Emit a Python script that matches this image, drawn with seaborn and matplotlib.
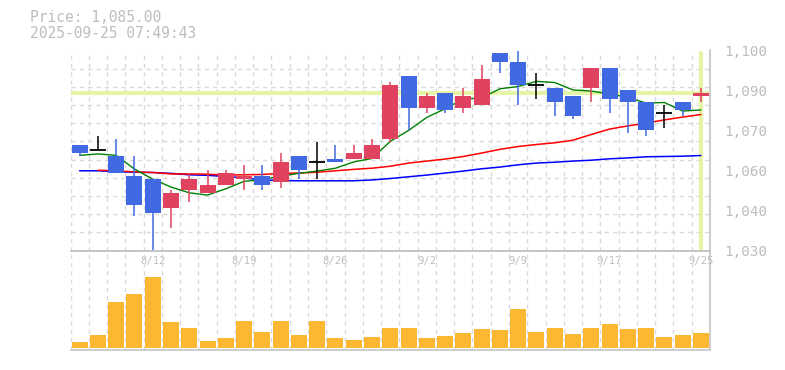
import numpy as np
import pandas as pd
import matplotlib
matplotlib.use("Agg")
import matplotlib.pyplot as plt
import seaborn as sns
from matplotlib.ticker import FixedLocator

# ---------------- data ----------------
dates = ["8/5", "8/6", "8/7", "8/8", "8/12", "8/13", "8/14", "8/15", "8/18", "8/19",
         "8/20", "8/21", "8/22", "8/25", "8/26", "8/27", "8/28", "8/29", "9/1", "9/2",
         "9/3", "9/4", "9/5", "9/8", "9/9", "9/10", "9/11", "9/12", "9/16", "9/17",
         "9/18", "9/19", "9/22", "9/24", "9/25"]
open_ = [1067, 1065, 1063, 1056, 1055, 1045, 1051, 1050, 1053, 1055,
         1056, 1054, 1063, 1061, 1062, 1062, 1062, 1069, 1091, 1080,
         1085, 1080, 1081, 1099, 1096, 1088, 1087, 1084, 1087, 1094,
         1086, 1082, 1078, 1082, 1084]
high = [1067, 1070, 1069, 1063, 1055, 1051, 1057, 1058, 1058, 1060,
        1060, 1064, 1063, 1068, 1067, 1067, 1069, 1089, 1091, 1085,
        1085, 1087, 1095, 1099, 1100, 1092, 1087, 1084, 1094, 1094,
        1086, 1082, 1081, 1082, 1087]
low = [1063, 1065, 1057, 1042, 1030, 1038, 1047, 1050, 1053, 1051,
       1051, 1052, 1055, 1055, 1061, 1062, 1062, 1068, 1072, 1078,
       1078, 1078, 1081, 1092, 1081, 1083, 1077, 1076, 1082, 1078,
       1071, 1070, 1073, 1077, 1082]
close = [1064, 1065, 1057, 1046, 1043, 1050, 1055, 1053, 1057, 1056,
         1053, 1061, 1058, 1061, 1061, 1064, 1067, 1088, 1080, 1084,
         1079, 1084, 1090, 1096, 1088, 1088, 1082, 1077, 1094, 1083,
         1082, 1072, 1078, 1079, 1085]
volume = [6, 13, 46, 54, 71, 26, 20, 7, 10, 27,
          16, 27, 13, 27, 10, 8, 11, 20, 20, 10,
          12, 15, 19, 18, 39, 16, 20, 14, 20, 24,
          19, 20, 11, 13, 15]
ma_short = [1063.3, 1063.8, 1063.3, 1058.5, 1055.0, 1052.2, 1050.2, 1049.4, 1051.6, 1054.2,
            1054.8, 1056.0, 1057.0, 1057.8, 1058.8, 1061.0, 1062.2, 1068.2, 1072.0, 1076.6,
            1079.6, 1083.0, 1083.4, 1086.6, 1087.4, 1089.2, 1088.8, 1086.2, 1085.8, 1084.8,
            1083.6, 1081.6, 1081.8, 1078.8, 1079.2]
ma_mid = [np.nan, 1058.1, 1057.9, 1057.5, 1057.3, 1056.8, 1056.8, 1056.7, 1056.4, 1056.5,
          1056.6, 1057.0, 1057.1, 1057.4, 1057.9, 1058.4, 1058.8, 1059.5, 1060.6, 1061.3,
          1062.0, 1062.9, 1064.1, 1065.4, 1066.4, 1067.1, 1067.7, 1068.6, 1070.6, 1072.5,
          1073.6, 1074.6, 1075.7, 1076.7, 1077.6]
ma_long = [1057.9, 1057.9, 1057.6, 1057.4, 1057.3, 1057.0, 1056.5, 1056.3, 1055.9, 1055.4,
           1054.7, 1054.5, 1054.4, 1054.4, 1054.4, 1054.4, 1054.7, 1055.2, 1055.8, 1056.4,
           1057.1, 1057.8, 1058.6, 1059.2, 1060.0, 1060.6, 1060.9, 1061.3, 1061.6, 1062.1,
           1062.4, 1062.8, 1062.9, 1063.0, 1063.25]
x_labels = ["8/12", "8/19", "8/26", "9/2", "9/9", "9/17", "9/25"]
y_ticks = [1030, 1044, 1058, 1072, 1086, 1100]
y_labels = ["1,030", "1,040", "1,060", "1,070", "1,090", "1,100"]
current_price = 1085.00
timestamp = "2025-09-25 07:49:43"

df = pd.DataFrame({"date": dates, "open": open_, "high": high, "low": low,
                   "close": close, "volume": volume, "ma_s": ma_short,
                   "ma_m": ma_mid, "ma_l": ma_long})
df["i"] = np.arange(len(df))

# ---------------- style ----------------
sns.set_style("white")
plt.rcParams["font.family"] = ["DejaVu Sans Mono"]

UP = "#e0435f"
DOWN = "#4169e1"
GRID = "#d9d9d9"
BORDER = "#c4c4c4"
TXT = "#bdbdbd"
HILITE = "#e5f4a6"
VOL = "#fdb833"

W, H = 785, 370
fig = plt.figure(figsize=(W / 100, H / 100), dpi=100)
L, R = 70.5, 710
ax = fig.add_axes([L / W, (H - 250.5) / H, (R - L) / W, 200 / H])
axv = fig.add_axes([L / W, (H - 350) / H, (R - L) / W, 99.5 / H])
axv.set_facecolor("none")

n = len(df)
width = 0.875

# highlight lines
ax.axhline(current_price, color=HILITE, lw=3, zorder=1)
ax.axvline(n - 1, ymin=0.01, ymax=0.99, color=HILITE, lw=3, zorder=1)

# moving averages
sns.lineplot(data=df, x="i", y="ma_l", color="#0000ff", lw=1.1, ax=ax, zorder=2)
sns.lineplot(data=df, x="i", y="ma_m", color="#ff0000", lw=1.1, ax=ax, zorder=2)
sns.lineplot(data=df, x="i", y="ma_s", color="#008000", lw=1.0, ax=ax, zorder=2)

# candles
for _, r in df.iterrows():
    o, c, h, l, i = r["open"], r["close"], r["high"], r["low"], r["i"]
    if c > o:
        col = UP
    elif c < o:
        col = DOWN
    else:
        col = "black"
    ax.vlines(i, l, h, color=col, lw=1.1, zorder=3)
    if c == o:
        ax.hlines(c, i - width / 2, i + width / 2, color="black", lw=1.3, zorder=4)
    else:
        ax.bar(i, abs(c - o), bottom=min(o, c), width=width, color=col,
               linewidth=0, zorder=4)

# volume
sns.barplot(data=df, x="i", y="volume", color=VOL, saturation=1, width=width,
            native_scale=True, ax=axv, zorder=3, linewidth=0)

# ---------------- axes formatting ----------------
for a in (ax, axv):
    a.set_xlim(-0.5, n - 0.5)
    a.set_xlabel("")
    a.set_ylabel("")
    a.xaxis.set_minor_locator(FixedLocator(np.arange(-0.5, n, 1.0)))
    a.grid(which="minor", axis="x", color=GRID, lw=1, linestyle=(0, (3, 3)))
    a.grid(which="major", visible=False)
    a.set_axisbelow(True)
    a.tick_params(which="both", length=0)
    for s in ("left", "top"):
        a.spines[s].set_visible(False)
    for s in ("right", "bottom"):
        a.spines[s].set_color(BORDER)
        a.spines[s].set_linewidth(1.2)

ax.set_ylim(1030, 1100)
ax.yaxis.set_minor_locator(FixedLocator(np.linspace(1030, 1100, 12)))
ax.grid(which="minor", axis="y", color=GRID, lw=1, linestyle=(0, (3, 3)))
ax.yaxis.tick_right()
ax.set_yticks(y_ticks)
ax.set_yticklabels(y_labels)
ax.tick_params(axis="y", which="major", pad=10, labelsize=10.3, labelcolor=TXT)
ax.set_xticks([dates.index(d) for d in x_labels])
ax.set_xticklabels(x_labels)
ax.tick_params(axis="x", which="major", pad=4, labelsize=7.6, labelcolor=TXT)

axv.set_ylim(-2, 97.5)
axv.set_yticks([])
axv.set_xticks([])
axv.spines["top"].set_visible(True)
axv.spines["top"].set_color(BORDER)
axv.spines["top"].set_linewidth(1.2)
axv.yaxis.set_minor_locator(FixedLocator([]))

# header text
fig.text(30 / W, 1 - 18 / H, f"Price: {current_price:,.2f}", color=TXT,
         fontsize=10.5, va="center", ha="left")
fig.text(30 / W, 1 - 33.5 / H, timestamp, color=TXT, fontsize=10.5,
         va="center", ha="left")

fig.savefig("out.png", dpi=100)
